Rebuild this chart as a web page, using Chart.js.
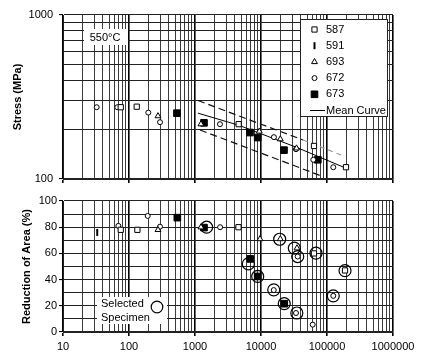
<!DOCTYPE html>
<html>
<head>
<meta charset="utf-8">
<script src="https://cdn.jsdelivr.net/npm/chart.js@4.4.1/dist/chart.umd.min.js"></script>
<style>
body { margin: 0; background: #fff; }
#wrap { position: relative; width: 422px; height: 359px; }
canvas { position: absolute; left: 0; }
#stressChart { top: 0; }
#raChart { top: 190px; }
</style>
</head>
<body>
<div id="wrap">
<canvas id="stressChart" width="422" height="192"></canvas>
<canvas id="raChart" width="422" height="169"></canvas>
</div>
<script>
// time to rupture (h) vs stress (MPa), per heat
var stressTime587 = [75, 131, 4590, 63500, 194000];
var stress587 = [274, 276, 216, 159, 118];
var stressTime693 = [275, 1230, 9420, 19600, 34500];
var stress693 = [242, 216, 195, 175, 154];
var stressTime672 = [32.4, 66.5, 196, 295, 2390, 15700, 33900, 62000, 124500];
var stress672 = [274, 274, 254, 222, 216, 180, 152, 131, 118];
var stressTime673 = [533, 1368, 6810, 8910, 22300, 72500];
var stress673 = [252, 220, 192, 179, 150, 131];

// mean curve and scatter band
var meanTime = [1110, 4560, 34500, 187500];
var meanStress = [252, 213, 156, 117];
var upperTime = [1110, 43300];
var upperStress = [301, 173];
var upperFaintTime = [43300, 187500];
var upperFaintStress = [173, 137];
var lowerTime = [1190, 84000];
var lowerStress = [199, 104];

// time to rupture (h) vs reduction of area (%)
var raTime587 = [75, 134, 4560, 63500, 187500];
var ra587 = [78, 78, 80, 60, 47];
var raTime591 = [33];
var ra591 = [76];
var raTime693 = [275, 1230, 9660, 19600, 35100];
var ra693 = [78, 80, 71, 71, 64];
var raTime672 = [69, 192, 295, 2400, 15600, 33900, 36000, 60700, 124500];
var ra672 = [81, 88.6, 80.4, 80, 32, 14.5, 57.6, 5.6, 27.6];
var raTime673 = [540, 1368, 6890, 8910, 22500];
var ra673 = [87.3, 79.7, 55.8, 42.4, 21.6];
var selectedTime = [1500, 6430, 8910, 15600, 19200, 22500, 32000, 34900, 36000, 68100, 124500, 187500];
var selectedRa = [80, 52, 42.4, 32.2, 70.8, 21.6, 64, 14.5, 57.6, 60.2, 27.6, 46.9];

var heats = ['587', '591', '693', '672', '673'];
var xTickLabels = ['10', '100', '1000', '10000', '100000', '1000000'];
var stressTickLabels = ['100', '1000'];
var raTickLabels = ['0', '20', '40', '60', '80', '100'];

var FONT = "'Liberation Sans', Arial, sans-serif";

function logGrid(labels) {
    var out = [];
    for (var i = 0; i < labels.length - 1; i++) {
        for (var k = 1; k < 10; k++) out.push(Number(labels[i]) * k);
    }
    out.push(Number(labels[labels.length - 1]));
    return out;
}
var xGrid = logGrid(xTickLabels);
var stressGrid = logGrid(stressTickLabels);
var raGrid = [0, 10, 20, 30, 40, 50, 60, 70, 80, 90, 100];

function marker(name) {
    switch (name) {
        case '587': return { pointStyle: 'rect', radius: 3.7, rotation: 0, fill: '#fff', borderWidth: 1 };
        case '591': return { pointStyle: 'line', radius: 3.5, rotation: 90, fill: '#000', borderWidth: 2 };
        case '693': return { pointStyle: 'triangle', radius: 3.4, rotation: 0, fill: '#fff', borderWidth: 1 };
        case '672': return { pointStyle: 'circle', radius: 2.5, rotation: 0, fill: '#fff', borderWidth: 1 };
        case '673': return { pointStyle: 'rect', radius: 4.7, rotation: 0, fill: '#000', borderWidth: 1 };
    }
}

function pts(xs, ys) {
    return xs.map(function(x, i) { return { x: x, y: ys[i] }; });
}

function scatterSet(name, xs, ys) {
    var m = marker(name);
    return {
        label: name,
        data: pts(xs, ys),
        showLine: false,
        pointStyle: m.pointStyle,
        pointRadius: m.radius,
        pointRotation: m.rotation,
        pointBackgroundColor: m.fill,
        pointBorderColor: '#000',
        pointBorderWidth: m.borderWidth
    };
}

function lineSet(xs, ys, color, dash, width) {
    return {
        data: pts(xs, ys),
        showLine: true,
        borderColor: color,
        borderWidth: width,
        borderDash: dash,
        pointRadius: 0,
        fill: false,
        tension: 0
    };
}

function isLabel(list, v) {
    return list.indexOf(String(v)) >= 0;
}

function timeAxis(showLabels, height) {
    return {
        type: 'logarithmic',
        min: 10,
        max: 1000000,
        afterBuildTicks: function(s) { s.ticks = xGrid.map(function(v) { return { value: v }; }); },
        afterFit: function(s) { s.height = height; },
        ticks: {
            autoSkip: false,
            maxRotation: 0,
            minRotation: 0,
            padding: 4,
            color: '#000',
            font: { family: FONT, size: 11 },
            callback: function(v) { return showLabels && isLabel(xTickLabels, v) ? String(v) : ''; }
        },
        grid: {
            color: function(c) { return c.tick && isLabel(xTickLabels, c.tick.value) ? '#000' : '#3c3c3c'; },
            lineWidth: function(c) { return c.tick && isLabel(xTickLabels, c.tick.value) ? 1.6 : 1; },
            tickLength: 4,
            tickColor: function(c) { return c.tick && isLabel(xTickLabels, c.tick.value) ? '#000' : 'rgba(0,0,0,0)'; }
        },
        border: { color: '#222' }
    };
}

function valueAxis(type, min, max, grid, labels, title, titlePad, tickPad) {
    return {
        type: type,
        min: min,
        max: max,
        afterBuildTicks: function(s) { s.ticks = grid.map(function(v) { return { value: v }; }); },
        afterFit: function(s) { s.width = 63; },
        ticks: {
            autoSkip: false,
            padding: tickPad,
            color: '#000',
            font: { family: FONT, size: 11 },
            callback: function(v) { return isLabel(labels, v) ? String(v) : ''; }
        },
        grid: {
            color: '#222',
            lineWidth: 1.1,
            tickLength: 4,
            tickColor: function(c) { return c.tick && isLabel(labels, c.tick.value) ? '#000' : 'rgba(0,0,0,0)'; }
        },
        border: { color: '#222' },
        title: {
            display: true,
            text: title,
            color: '#000',
            padding: titlePad,
            font: { family: FONT, size: 11, weight: 'bold' }
        }
    };
}

function drawMarker(ctx, name, x, y) {
    var m = marker(name);
    ctx.save();
    ctx.fillStyle = m.fill;
    ctx.strokeStyle = '#000';
    ctx.lineWidth = m.borderWidth;
    Chart.helpers.drawPoint(ctx, { pointStyle: m.pointStyle, radius: m.radius, rotation: m.rotation, borderWidth: m.borderWidth }, x, y);
    ctx.restore();
}

var stressNotes = {
    id: 'stressNotes',
    afterDraw: function(chart) {
        var ctx = chart.ctx;
        ctx.save();
        // temperature label
        ctx.fillStyle = '#fff';
        ctx.fillRect(84, 29, 44, 16);
        ctx.fillStyle = '#000';
        ctx.font = '11px ' + FONT;
        ctx.textAlign = 'center';
        ctx.textBaseline = 'middle';
        ctx.fillText('550\u00B0C', 105, 37.5);
        // legend box
        ctx.fillStyle = '#fff';
        ctx.fillRect(300, 19, 87, 98);
        ctx.strokeStyle = '#222';
        ctx.lineWidth = 1;
        ctx.strokeRect(300.5, 19.5, 87, 97);
        ctx.textAlign = 'left';
        for (var i = 0; i < heats.length; i++) {
            var y = 29.5 + i * 16.2;
            drawMarker(ctx, heats[i], 314.5, y);
            ctx.fillStyle = '#000';
            ctx.fillText(heats[i], 326, y);
        }
        ctx.strokeStyle = '#000';
        ctx.beginPath();
        ctx.moveTo(310, 110.5);
        ctx.lineTo(325, 110.5);
        ctx.stroke();
        ctx.fillText('Mean Curve', 326, 110.5);
        ctx.restore();
    }
};

var raNotes = {
    id: 'raNotes',
    afterDraw: function(chart) {
        var ctx = chart.ctx;
        ctx.save();
        ctx.fillStyle = '#fff';
        ctx.fillRect(97, 107, 70, 27);
        ctx.fillStyle = '#000';
        ctx.font = '11px ' + FONT;
        ctx.textAlign = 'left';
        ctx.textBaseline = 'middle';
        ctx.fillText('Selected', 101, 114);
        ctx.fillText('Specimen', 101, 127.5);
        ctx.strokeStyle = '#000';
        ctx.lineWidth = 1.2;
        ctx.beginPath();
        ctx.arc(157, 117, 5.8, 0, Math.PI * 2);
        ctx.stroke();
        ctx.restore();
    }
};

var common = {
    responsive: false,
    animation: false,
    events: [],
    plugins: { legend: { display: false }, tooltip: { enabled: false } }
};

new Chart(document.getElementById('stressChart'), {
    type: 'scatter',
    data: {
        datasets: [
            scatterSet('587', stressTime587, stress587),
            scatterSet('693', stressTime693, stress693),
            scatterSet('672', stressTime672, stress672),
            scatterSet('673', stressTime673, stress673),
            lineSet(meanTime, meanStress, '#000', [], 1),
            lineSet(upperTime, upperStress, '#111', [7, 4], 1.2),
            lineSet(upperFaintTime, upperFaintStress, '#999', [5, 4], 1.2),
            lineSet(lowerTime, lowerStress, '#111', [7, 4], 1.2)
        ]
    },
    options: Object.assign({}, common, {
        layout: { padding: { left: 0, top: 15, right: 29, bottom: 0 } },
        scales: {
            x: timeAxis(false, 13),
            y: valueAxis('logarithmic', 100, 1000, stressGrid, stressTickLabels, 'Stress (MPa)', 11, 6)
        }
    }),
    plugins: [stressNotes]
});

new Chart(document.getElementById('raChart'), {
    type: 'scatter',
    data: {
        datasets: [
            scatterSet('587', raTime587, ra587),
            scatterSet('591', raTime591, ra591),
            scatterSet('693', raTime693, ra693),
            scatterSet('672', raTime672, ra672),
            scatterSet('673', raTime673, ra673),
            {
                label: 'Selected',
                data: pts(selectedTime, selectedRa),
                showLine: false,
                pointStyle: 'circle',
                pointRadius: 6,
                pointBackgroundColor: 'rgba(0,0,0,0)',
                pointBorderColor: '#000',
                pointBorderWidth: 1.2
            }
        ]
    },
    options: Object.assign({}, common, {
        layout: { padding: { left: 0, top: 11, right: 29, bottom: 0 } },
        scales: {
            x: timeAxis(true, 27),
            y: valueAxis('linear', 0, 100, raGrid, raTickLabels, 'Reduction of Area (%)', 20, 2)
        }
    }),
    plugins: [raNotes]
});
</script>
</body>
</html>
